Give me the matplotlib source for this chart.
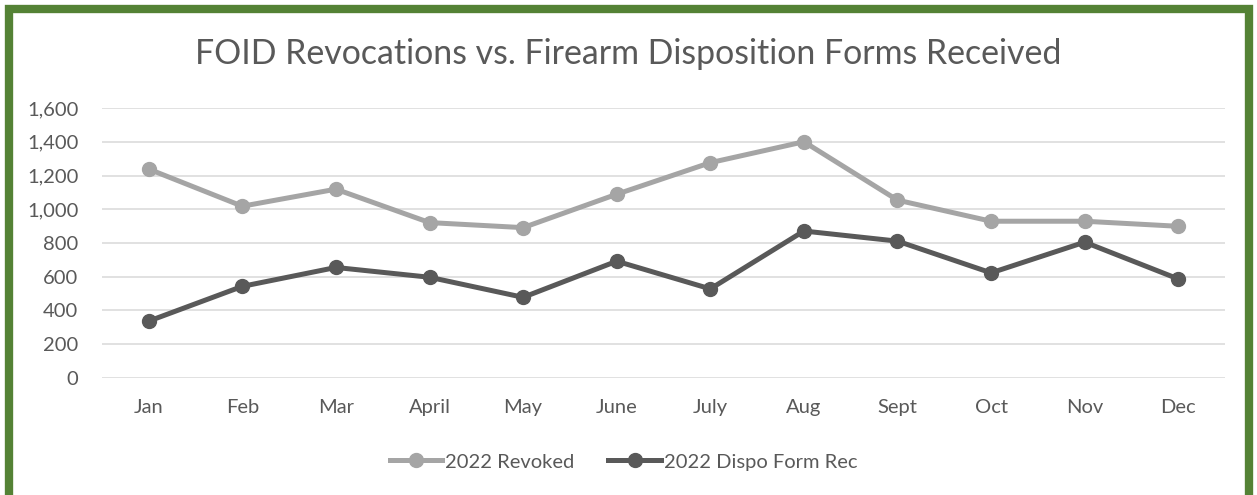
import matplotlib
matplotlib.use("Agg")
import matplotlib.pyplot as plt
from matplotlib.patches import Rectangle
from matplotlib.ticker import FuncFormatter

plt.rcParams['font.family'] = ['Lato', 'DejaVu Sans']

months = ['Jan', 'Feb', 'Mar', 'April', 'May', 'June', 'July', 'Aug', 'Sept', 'Oct', 'Nov', 'Dec']
revoked = [1238, 1018, 1119, 921, 891, 1089, 1276, 1400, 1054, 929, 929, 899]
dispo_forms = [337, 543, 655, 597, 478, 692, 528, 871, 811, 623, 805, 587]

text_color = '#595959'

fig = plt.figure(figsize=(12.57, 4.95), dpi=100)
ax = fig.add_axes([0.0811, 0.2364, 0.8935, 0.5454])

x = range(len(months))
ax.plot(x, revoked, color='#A5A5A5', lw=3.6, marker='o', ms=10, label='2022 Revoked', zorder=3)
ax.plot(x, dispo_forms, color='#595959', lw=3.6, marker='o', ms=10, label='2022 Dispo Form Rec', zorder=3)

ax.set_xlim(-0.5, len(months) - 0.5)
ax.set_ylim(0, 1600)
ax.set_yticks(range(0, 1601, 200))
ax.yaxis.set_major_formatter(FuncFormatter(lambda v, p: f'{int(v):,}'))
ax.set_xticks(list(x))
ax.set_xticklabels(months)
ax.grid(axis='y', color='#D9D9D9', lw=1.1)
ax.set_axisbelow(True)
for s in ax.spines.values():
    s.set_visible(False)
ax.tick_params(axis='both', length=0, labelsize=14.5, labelcolor=text_color)
ax.tick_params(axis='x', pad=15)
ax.tick_params(axis='y', pad=17)

fig.text(0.5, 0.89, 'FOID Revocations vs. Firearm Disposition Forms Received',
         ha='center', va='center', fontsize=24.4, color=text_color)

leg = ax.legend(loc='center', bbox_to_anchor=(0.496, 0.0667), bbox_transform=fig.transFigure,
                ncol=2, frameon=False, fontsize=14.5, handlelength=2.6, handletextpad=0.15,
                columnspacing=1.7)
for t in leg.get_texts():
    t.set_color(text_color)

# green frame around the chart, open at the bottom edge
fig.patches.append(Rectangle((8.5 / 1257, -0.1), 1 - 17 / 1257, 1.1 - 8.5 / 495,
                             transform=fig.transFigure, fill=False,
                             edgecolor='#548235', lw=6, zorder=10))

fig.savefig('out.png', dpi=100)
